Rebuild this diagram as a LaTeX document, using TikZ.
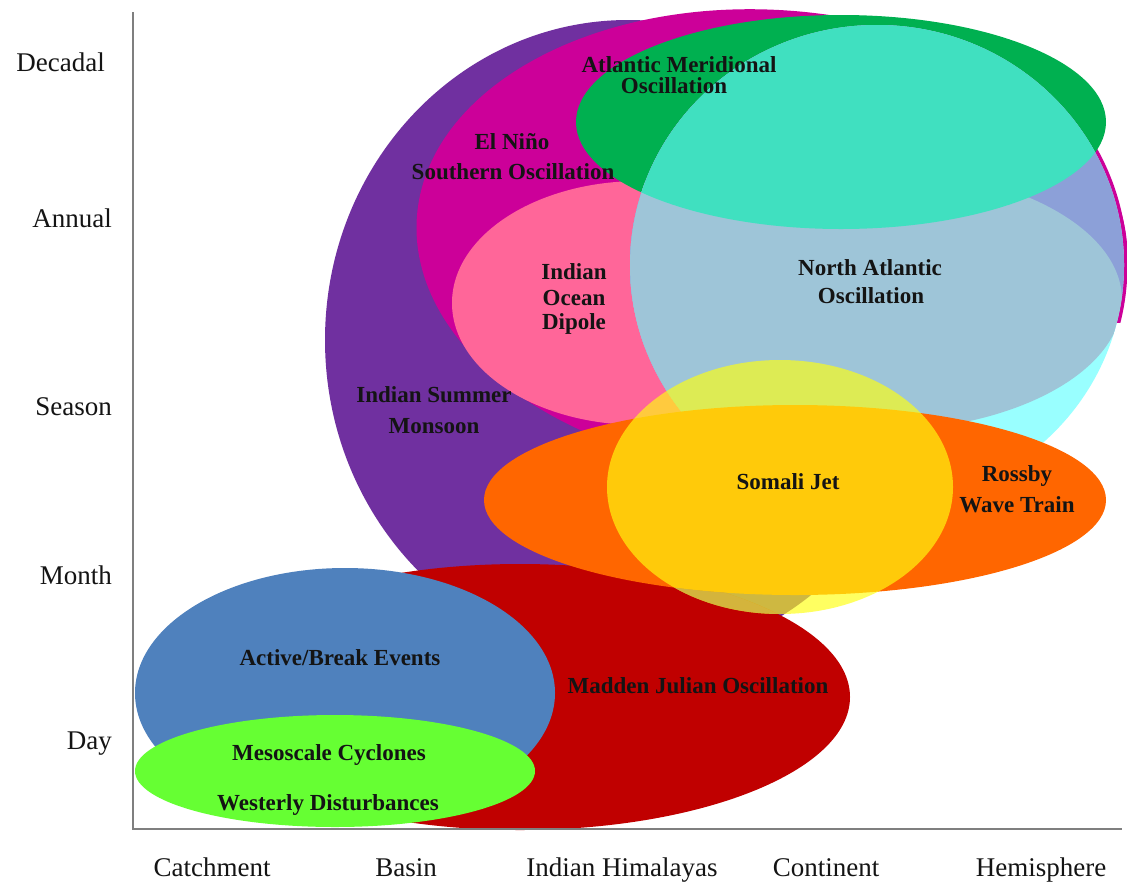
\documentclass[tikz,border=0pt]{standalone}
\usepackage{fontspec}
\setmainfont{Liberation Serif}
\definecolor{cPurple}{HTML}{7030A0}
\definecolor{cMagenta}{HTML}{CC0099}
\definecolor{cPink}{HTML}{FF6699}
\definecolor{cAMO}{HTML}{00B050}
\definecolor{cTeal}{HTML}{40E0C0}
\definecolor{cLB}{HTML}{9EC5D8}
\definecolor{cPeri}{HTML}{8CA0D8}
\definecolor{cCyan}{HTML}{99FFFF}
\definecolor{cOrange}{HTML}{FF6600}
\definecolor{cYellow}{HTML}{FFFF10}
\definecolor{cKhaki}{HTML}{D4B43C}
\definecolor{cRed}{HTML}{C00000}
\definecolor{cBlue}{HTML}{4F81BD}
\definecolor{cLime}{HTML}{66FF33}
\definecolor{axisgray}{HTML}{7F7F7F}
\definecolor{txt}{HTML}{141414}
\tikzset{
  lbl/.style={font=\bfseries\fontsize{23}{23}\selectfont, text=txt, inner sep=0pt, text height=15pt, text depth=0pt},
  axl/.style={font=\fontsize{27}{27}\selectfont, text=txt, inner sep=0pt, text height=18pt, text depth=0pt},
  axisln/.style={draw=axisgray, line width=2pt},
  magshape/.style={rotate around={-4:(772,242)}}
}
\begin{document}
\begin{tikzpicture}[x=1pt,y=-1pt]
\useasboundingbox (0,0) rectangle (1127,884);
\fill[white] (0,0) rectangle (1127,884);
% Indian Summer Monsoon
\fill[cPurple] (628,340) ellipse [x radius=303pt, y radius=320pt];
% ENSO
\fill[cMagenta, magshape] (772,242) ellipse [x radius=356pt, y radius=232pt];
\begin{scope}
  \clip (1050,140) rectangle (1127,322);
  \draw[cMagenta, line width=7pt] (877,265) ellipse [x radius=247pt, y radius=240pt];
\end{scope}
% IOD
\fill[cPink] (640,303) ellipse [x radius=188pt, y radius=122pt];
% AMO
\fill[cAMO] (841,122) ellipse [x radius=265pt, y radius=107pt];
% NAO (translucent look)
\fill[cCyan] (877,265) ellipse [x radius=247pt, y radius=240pt];
\begin{scope}
  \clip (877,265) ellipse [x radius=247pt, y radius=240pt];
  \fill[cPeri] (600,0) rectangle (1127,300);
  \fill[cPeri] (628,340) ellipse [x radius=303pt, y radius=320pt];
  \fill[cLB] (875,300) ellipse [x radius=247pt, y radius=131pt];
  \fill[cLB] (640,303) ellipse [x radius=188pt, y radius=122pt];
  \fill[cTeal] (841,122) ellipse [x radius=265pt, y radius=107pt];
\end{scope}
% MJO
\fill[cRed] (520,697) ellipse [x radius=330pt, y radius=133pt];
% Rossby wave train
\fill[cOrange] (795,500) ellipse [x radius=311pt, y radius=95pt];
% Somali jet
\fill[cYellow, fill opacity=0.66] (780,487) ellipse [x radius=173pt, y radius=127pt];
\begin{scope}
  \clip (780,487) ellipse [x radius=173pt, y radius=127pt];
  \clip (520,697) ellipse [x radius=330pt, y radius=133pt];
  \fill[cKhaki, even odd rule] (500,450) rectangle (1000,700)
     (795,500) ellipse [x radius=311pt, y radius=95pt];
\end{scope}
% Active/Break
\fill[cBlue] (345,693) ellipse [x radius=210pt, y radius=125pt];
% Mesoscale
\fill[cLime] (335,771) ellipse [x radius=200pt, y radius=56pt];
% axes
\coordinate (ytop) at (133,12);
\coordinate (orig) at (133,829);
\coordinate (xend) at (1122,829);
\draw[axisln] (ytop) -- (orig) -- (xend);
% axis labels
\node[axl, anchor=east] (ydec) at (105,62) {Decadal};
\node[axl, anchor=east] (yann) at (112,218) {Annual};
\node[axl, anchor=east] (ysea) at (112,406) {Season};
\node[axl, anchor=east] (ymon) at (112,575) {Month};
\node[axl, anchor=east] (yday) at (112,740) {Day};
\node[axl] (xcat) at (212,867) {Catchment};
\node[axl] (xbas) at (406,867) {Basin};
\node[axl] (xhim) at (622,867) {Indian Himalayas};
\node[axl] (xcon) at (826,867) {Continent};
\node[axl] (xhem) at (1041,867) {Hemisphere};
% ellipse labels
\node[lbl] (amo1) at (679,65) {Atlantic Meridional};
\node[lbl] (amo2) at (674,86) {Oscillation};
\node[lbl] (enso1) at (512,142) {El Niño};
\node[lbl] (enso2) at (513,172) {Southern Oscillation};
\node[lbl] (iod1) at (574,272) {Indian};
\node[lbl] (iod2) at (574,298) {Ocean};
\node[lbl] (iod3) at (574,322) {Dipole};
\node[lbl] (ism1) at (434,395) {Indian Summer};
\node[lbl] (ism2) at (434,426) {Monsoon};
\node[lbl] (nao1) at (870,268) {North Atlantic};
\node[lbl] (nao2) at (871,296) {Oscillation};
\node[lbl] (sj) at (788,482) {Somali Jet};
\node[lbl] (rw1) at (1017,474) {Rossby};
\node[lbl] (rw2) at (1017,505) {Wave Train};
\node[lbl] (abe) at (340,658) {Active/Break Events};
\node[lbl] (mc) at (329,753) {Mesoscale Cyclones};
\node[lbl] (wd) at (328,803) {Westerly Disturbances};
\node[lbl] (mjo) at (698,686) {Madden Julian Oscillation};
\end{tikzpicture}
\end{document}
